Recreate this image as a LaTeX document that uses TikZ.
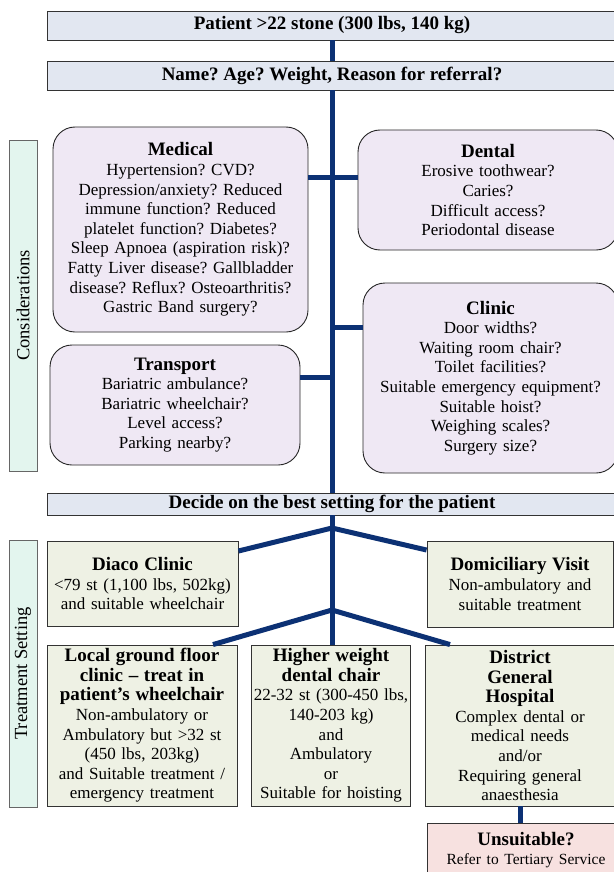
\documentclass[tikz,border=0pt]{standalone}
\usepackage{fontspec}
\setmainfont{Liberation Serif}
\usepackage{xcolor}
\usepackage{tikz}
\usetikzlibrary{positioning,calc}
\frenchspacing

\definecolor{bannerfill}{HTML}{E2E7F1}
\definecolor{topicfill}{HTML}{EFE8F4}
\definecolor{sidefill}{HTML}{E3F5EE}
\definecolor{settingfill}{HTML}{EEF1E4}
\definecolor{referfill}{HTML}{F7E1E0}
\definecolor{linknavy}{HTML}{0C3174}

\newcommand{\headfont}{\fontsize{19}{19.6}\selectfont\bfseries}
\newcommand{\bodyfont}{\fontsize{17}{19.6}\selectfont}
\newcommand{\sidefont}{\fontsize{18.5}{19.6}\selectfont}
\newcommand{\notefont}{\fontsize{15.5}{19}\selectfont}

\begin{document}
\begin{tikzpicture}[
    x=1pt, y=-1pt,
    every node/.style={font=\bodyfont},
    banner/.style={rectangle, draw=black!80, fill=bannerfill, line width=0.9pt, minimum width=570pt, inner sep=0pt, font=\headfont},
    topic/.style={rectangle, draw=black!85, fill=topicfill, line width=0.9pt, rounded corners=22pt, align=center, inner xsep=5pt, inner ysep=0pt},
    side/.style={rectangle, draw=black!60, fill=sidefill, line width=0.8pt, minimum height=28pt, inner sep=0pt, rotate=90, font=\sidefont},
    setting/.style={rectangle, draw=black!80, fill=settingfill, line width=0.9pt, align=center, inner xsep=2pt, inner ysep=0pt},
    link/.style={draw=linknavy, line width=5pt},
]
    \useasboundingbox (0,0) rectangle (613,872);

    % Header banners
    \node[banner, minimum height=29pt] (patient) at (332,25.5) {Patient >22 stone (300 lbs, 140 kg)};
    \node[banner, minimum height=29pt] (intake) at (332,75.5) {Name? Age? Weight, Reason for referral?};

    % Considerations
    \node[side, minimum width=331pt] (consider) at (23,305.5) {Considerations};
    \node[topic, text width=245pt, minimum height=205pt] (medical) at (180.5,229.5) {{\headfont Medical}\\
        Hypertension? CVD?\\ Depression/anxiety? Reduced\\ immune function? Reduced\\ platelet function? Diabetes?\\
        Sleep Apnoea (aspiration risk)?\\ Fatty Liver disease? Gallbladder\\ disease? Reflux? Osteoarthritis?\\ Gastric Band surgery?};
    \node[topic, text width=250pt, minimum height=120pt] (dental) at (488,190) {{\headfont Dental}\\
        Erosive toothwear?\\ Caries?\\ Difficult access?\\ Periodontal disease};
    \node[topic, text width=245pt, minimum height=190pt] (clinic) at (490.5,378) {{\headfont Clinic}\\
        Door widths?\\ Waiting room chair?\\ Toilet facilities?\\ Suitable emergency equipment?\\
        Suitable hoist?\\ Weighing scales?\\ Surgery size?};
    \node[topic, text width=240pt, minimum height=120pt] (transport) at (175,405) {{\headfont Transport}\\
        Bariatric ambulance?\\ Bariatric wheelchair?\\ Level access?\\ Parking nearby?};

    \node[banner, minimum height=22pt] (decide) at (332,504) {Decide on the best setting for the patient};

    % Treatment setting
    \node[side, minimum width=267pt] (treat) at (23,673.5) {Treatment Setting};
    \node[setting, text width=187pt, minimum height=85pt] (diaco) at (142.5,583.5) {{\headfont Diaco Clinic}\\
        <79 st (1,100 lbs, 502kg)\\ and suitable wheelchair};
    \node[setting, text width=182pt, minimum height=86pt] (domicile) at (520,584) {{\headfont Domiciliary Visit}\\
        Non-ambulatory and\\ suitable treatment};
    \node[setting, text width=186pt, minimum height=161pt] (local) at (142,725.5) {{\headfont Local ground floor}\\
        {\headfont clinic – treat in}\\ {\headfont patient’s wheelchair}\\ Non-ambulatory or\\ Ambulatory but >32 st\\
        (450 lbs, 203kg)\\ and Suitable treatment /\\ emergency treatment};
    \node[setting, text width=155pt, minimum height=161pt] (higher) at (331,725.5) {{\headfont Higher weight}\\
        {\headfont dental chair}\\ 22-32 st (300-450 lbs,\\ 140-203 kg)\\ and\\ Ambulatory\\ or\\ Suitable for hoisting};
    \node[setting, text width=186pt, minimum height=161pt] (district) at (520,725.5) {{\headfont District}\\
        {\headfont General}\\ {\headfont Hospital}\\ Complex dental or\\ medical needs\\ and/or\\ Requiring general\\ anaesthesia};
    \node[setting, fill=referfill, text width=194pt, minimum height=54pt] (refer) at (526,850) {{\headfont Unsuitable?}\\
        {\notefont Refer to Tertiary Service}};

    % Trunk
    \draw[link] (patient.south) -- (intake.north);
    \draw[link] (intake.south) -- (decide.north);
    \draw[link] (decide.south) -- (decide.south |- higher.north);

    % Side branches
    \coordinate (dentalin) at ([yshift=13pt]dental.west);
    \draw[link] (medical.east |- dentalin) -- (dentalin);
    \coordinate (clinicin) at ([yshift=51pt]clinic.west);
    \draw[link] (intake.south |- clinicin) -- (clinicin);
    \coordinate (transportout) at ([yshift=28pt]transport.east);
    \draw[link] (transportout) -- (intake.south |- transportout);

    % Setting forks
    \coordinate (fork1) at (332,528);
    \coordinate (fork2) at (332,610);
    \draw[link] (fork1) -- ([yshift=32.5pt]diaco.east);
    \draw[link] (fork1) -- ([yshift=34pt]domicile.west);
    \draw[link] (fork2) -- ([xshift=71pt]local.north);
    \draw[link] (fork2) -- ([xshift=-70pt]district.north);
    \draw[link] (district.south) -- (district.south |- refer.north);
\end{tikzpicture}
\end{document}
